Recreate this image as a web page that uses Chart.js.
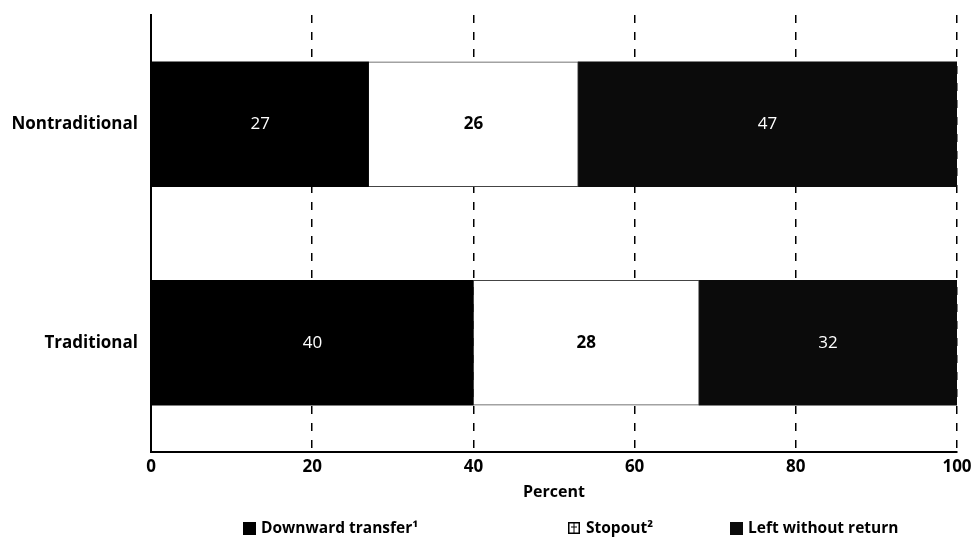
<!DOCTYPE html>
<html>
<head>
<meta charset="utf-8">
<script src="https://cdn.jsdelivr.net/npm/chart.js@4"></script>
<style>
  html, body { margin: 0; padding: 0; background: #fff; }
  #wrap { width: 975px; height: 538px; }
</style>
</head>
<body>
<div id="wrap"><canvas id="c" width="975" height="538"></canvas></div>
<script>
const categories = ['Nontraditional', 'Traditional'];
const seriesNames = ['Downward transfer\u00B9', 'Stopout\u00B2', 'Left without return'];
const downwardTransfer = [27, 40];
const stopout = [26, 28];
const leftWithoutReturn = [47, 32];
const xTicks = [0, 20, 40, 60, 80, 100];
const axisTitle = 'Percent';

const FONT = "'Liberation Sans Narrow', 'Open Sans', 'Noto Sans', sans-serif";
const fillColors = ['#000000', '#ffffff', '#0b0b0b'];
const labelColors = ['#ffffff', '#000000', '#ffffff'];
const labelWeights = ['normal', 'bold', 'normal'];

const valueLabels = {
  id: 'valueLabels',
  afterDatasetsDraw(chart) {
    const ctx = chart.ctx;
    ctx.save();
    ctx.textAlign = 'center';
    ctx.textBaseline = 'middle';
    chart.data.datasets.forEach((ds, di) => {
      const meta = chart.getDatasetMeta(di);
      meta.data.forEach((bar, i) => {
        const p = bar.getCenterPoint();
        ctx.fillStyle = labelColors[di];
        ctx.font = labelWeights[di] + ' 17px ' + FONT;
        ctx.fillText(String(ds.data[i]), p.x, p.y);
      });
    });
    ctx.restore();
  }
};

const customLegend = {
  id: 'customLegend',
  afterDraw(chart) {
    const ctx = chart.ctx;
    const items = [
      { box: 243, text: 261 },
      { box: 568, text: 586 },
      { box: 730, text: 748 }
    ];
    const y = 528;
    ctx.save();
    ctx.textBaseline = 'middle';
    ctx.textAlign = 'left';
    ctx.font = 'bold 15.5px ' + FONT;
    items.forEach((it, i) => {
      if (i === 1) {
        ctx.fillStyle = '#fff';
        ctx.fillRect(it.box, y - 6, 12, 12);
        ctx.strokeStyle = '#000';
        ctx.lineWidth = 1.5;
        ctx.strokeRect(it.box + 0.75, y - 5.25, 10.5, 10.5);
        ctx.beginPath();
        ctx.moveTo(it.box + 3, y - 1); ctx.lineTo(it.box + 9, y - 1);
        ctx.moveTo(it.box + 6, y - 5); ctx.lineTo(it.box + 6, y + 5);
        ctx.lineWidth = 1;
        ctx.stroke();
      } else {
        ctx.fillStyle = fillColors[i];
        ctx.fillRect(it.box, y - 6, 13, 13);
      }
      ctx.fillStyle = '#000';
      ctx.fillText(seriesNames[i], it.text, y + 1);
    });
    ctx.restore();
  }
};

new Chart(document.getElementById('c'), {
  type: 'bar',
  data: {
    labels: categories,
    datasets: [
      { label: seriesNames[0], data: downwardTransfer, backgroundColor: fillColors[0], borderWidth: 0 },
      { label: seriesNames[1], data: stopout, backgroundColor: fillColors[1], borderColor: '#444', borderWidth: 1 },
      { label: seriesNames[2], data: leftWithoutReturn, backgroundColor: fillColors[2], borderWidth: 0 }
    ]
  },
  options: {
    indexAxis: 'y',
    responsive: false,
    animation: false,
    devicePixelRatio: 1,
    layout: { padding: { top: 15, right: 18, left: 0, bottom: 36 } },
    datasets: { bar: { barThickness: 125 } },
    plugins: {
      legend: { display: false },
      tooltip: { enabled: false }
    },
    scales: {
      x: {
        stacked: true,
        min: 0,
        max: 100,
        afterBuildTicks(scale) { scale.ticks = xTicks.map(v => ({ value: v })); },
        afterFit(scale) {
          scale.height = 50;
          scale.paddingLeft = 0; scale.paddingRight = 0;
          scale.paddingTop = 0; scale.paddingBottom = 0;
        },
        grid: {
          display: true,
          color: '#000',
          lineWidth: 1.5,
          drawTicks: false,
          drawOnChartArea: true
        },
        border: { display: true, color: '#000', width: 2, dash: [8, 9] },
        ticks: {
          color: '#000',
          padding: 5,
          maxRotation: 0,
          font: { family: FONT, size: 17, weight: 'bold' }
        },
        title: {
          display: true,
          text: axisTitle,
          color: '#000',
          padding: { top: 0, bottom: 0 },
          font: { family: FONT, size: 16, weight: 'bold' }
        }
      },
      y: {
        stacked: true,
        afterFit(scale) {
          scale.width = 151;
          scale.paddingLeft = 0; scale.paddingRight = 0;
          scale.paddingTop = 0; scale.paddingBottom = 0;
        },
        grid: { display: false, drawTicks: false },
        border: { display: true, color: '#000', width: 2 },
        ticks: {
          color: '#000',
          padding: 13,
          font: { family: FONT, size: 17, weight: 'bold' }
        }
      }
    }
  },
  plugins: [valueLabels, customLegend]
});
</script>
</body>
</html>
